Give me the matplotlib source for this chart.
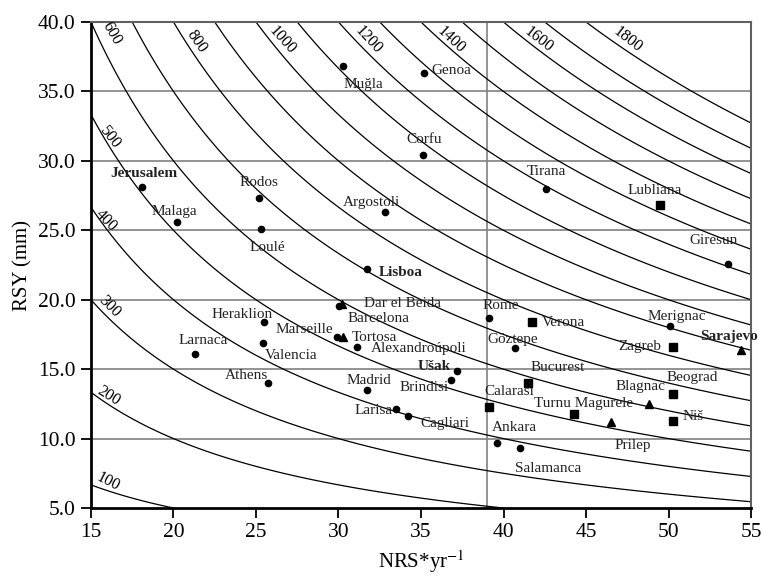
import numpy as np
import matplotlib
matplotlib.use("Agg")
import matplotlib.pyplot as plt

plt.rcParams['font.family'] = ['Liberation Serif', 'DejaVu Serif']
plt.rcParams['mathtext.fontset'] = 'stix'

# iso-lines of NRS*RSY
levels = [100, 200, 300, 400, 500, 600, 700, 800, 900, 1000, 1100, 1200,
          1300, 1400, 1500, 1600, 1700, 1800]
level_labels = [100, 200, 300, 400, 500, 600, 800, 1000, 1200, 1400, 1600, 1800]

# stations: circles
dot_names = ['Jerusalem', 'Malaga', 'Rodos', 'Loulé', 'Muğla', 'Lisboa', 'Genoa',
             'Corfu', 'Argostoli', 'Tirana', 'Giresun', 'Larnaca', 'Heraklion',
             'Valencia', 'Athens', 'Marseille', 'Barcelona', 'Alexandroúpoli',
             'Madrid', 'Larisa', 'Cagliari', 'Brindisi', 'Ušak', 'Rome', 'Göztepe',
             'Merignac', 'Ankara', 'Salamanca']
dot_x = [18.1, 20.2, 25.2, 25.3, 30.3, 31.7, 35.2, 35.1, 32.8, 42.6, 53.6, 21.3,
         25.5, 25.4, 25.7, 29.9, 30.05, 31.1, 31.7, 33.5, 34.2, 36.8, 37.2, 39.1,
         40.7, 50.1, 39.6, 41.0]
dot_y = [28.1, 25.6, 27.3, 25.1, 36.8, 22.2, 36.3, 30.4, 26.3, 28.0, 22.6, 16.1,
         18.4, 16.9, 14.0, 17.3, 19.55, 16.6, 13.5, 12.1, 11.6, 14.2, 14.9, 18.7,
         16.5, 18.1, 9.7, 9.3]

# stations: squares
sq_names = ['Lubliana', 'Verona', 'Bucurest', 'Calarasi', 'Turnu Magurele',
            'Zagreb', 'Beograd', 'Niš']
sq_x = [49.5, 41.7, 41.5, 39.1, 44.3, 50.3, 50.3, 50.3]
sq_y = [26.8, 18.4, 14.0, 12.3, 11.8, 16.6, 13.2, 11.3]

# stations: triangles
tri_names = ['Dar el Beida', 'Tortosa', 'Prilep', 'Blagnac', 'Sarajevo']
tri_x = [30.2, 30.3, 46.5, 48.8, 54.4]
tri_y = [19.7, 17.3, 11.2, 12.5, 16.4]

bold_names = ['Jerusalem', 'Lisboa', 'Ušak', 'Sarajevo']

# label offsets in pixels (dx, dy) from marker
offsets = {
    'Jerusalem': (2, 14), 'Malaga': (-2, 10), 'Rodos': (0, 16), 'Loulé': (6, -19),
    'Muğla': (20, -18), 'Lisboa': (34, -3), 'Genoa': (27, 3), 'Corfu': (1, 16),
    'Argostoli': (-13, 10), 'Tirana': (0, 17), 'Giresun': (-14, 23),
    'Larnaca': (8, 13), 'Heraklion': (-22, 7), 'Valencia': (29, -13),
    'Athens': (-21, 8), 'Marseille': (-33, 8), 'Barcelona': (39, -13),
    'Alexandroúpoli': (62, -2), 'Madrid': (2, 9), 'Larisa': (-23, -1),
    'Cagliari': (37, -7), 'Brindisi': (-27, -7), 'Ušak': (-23, 4),
    'Rome': (12, 12), 'Göztepe': (-2, 9), 'Merignac': (7, 10),
    'Ankara': (17, 15), 'Salamanca': (28, -20),
    'Lubliana': (-6, 15), 'Verona': (32, -1), 'Bucurest': (29, 16),
    'Calarasi': (21, 15), 'Turnu Magurele': (9, 10), 'Zagreb': (-34, 0),
    'Beograd': (19, 17), 'Niš': (20, 4),
    'Dar el Beida': (61, 0), 'Tortosa': (31, 0), 'Prilep': (22, -24),
    'Blagnac': (-8, 17), 'Sarajevo': (-12, 13),
}

# contour label placement (x, y, angle)
clab_pos = {100: (16.05, 6.85, -27), 200: (16.05, 13.1, -32), 300: (16.15, 19.5, -45),
            400: (15.9, 25.7, -45), 500: (16.15, 31.7, -52), 600: (16.25, 39.2, -60),
            800: (21.4, 38.6, -55), 1000: (26.6, 38.7, -48), 1200: (31.8, 38.7, -47),
            1400: (36.8, 38.7, -43), 1600: (42.1, 38.7, -38), 1800: (47.5, 38.7, -38)}

fig = plt.figure(figsize=(7.62, 5.79), dpi=100)
ax = fig.add_axes([0.1194, 0.1226, 0.8662, 0.8394])

# grid
for yv in [10, 15, 20, 25, 30, 35]:
    ax.axhline(yv, color='#808080', lw=1.2, zorder=1)
ax.axvline(39, color='#808080', lw=1.2, zorder=1)

X, Y = np.meshgrid(np.linspace(15, 55, 400), np.linspace(5, 40, 400))
ax.contour(X, Y, X * Y, levels=levels, colors='black', linewidths=0.9, zorder=2)

for lv in level_labels:
    px, py, ang = clab_pos[lv]
    ax.text(px, py, str(lv), rotation=ang, rotation_mode='anchor',
            ha='center', va='center', fontsize=11.5, zorder=3)

ax.plot(dot_x, dot_y, 'o', color='black', ms=4.5, zorder=4)
ax.plot(sq_x, sq_y, 's', color='black', ms=5.5, zorder=4)
ax.plot(tri_x, tri_y, '^', color='black', ms=5.5, zorder=4)

for names, xs, ys in [(dot_names, dot_x, dot_y), (sq_names, sq_x, sq_y),
                      (tri_names, tri_x, tri_y)]:
    for n, xv, yv in zip(names, xs, ys):
        dx, dy = offsets[n]
        ax.annotate(n, (xv, yv), xytext=(dx, dy), textcoords='offset pixels',
                    ha='center', va='center', fontsize=11,
                    fontweight='bold' if n in bold_names else 'normal',
                    color='#222222', zorder=5, annotation_clip=False)

ax.set_xlim(15, 55)
ax.set_ylim(5, 40)
ax.set_xticks([15, 20, 25, 30, 35, 40, 45, 50, 55])
ax.set_yticks([5, 10, 15, 20, 25, 30, 35, 40])
ax.set_yticklabels(['%.1f' % v for v in [5, 10, 15, 20, 25, 30, 35, 40]])
ax.tick_params(direction='out', length=7, width=1.3, labelsize=15.5, pad=4)
ax.set_xlabel('NRS*yr$^{-1}$', fontsize=15)
ax.set_ylabel('RSY (mm)', fontsize=15)

for s in ['left', 'bottom']:
    ax.spines[s].set_linewidth(2)
for s in ['top', 'right']:
    ax.spines[s].set_color('#606060')
    ax.spines[s].set_linewidth(1.5)

fig.savefig('out.png', dpi=100)
